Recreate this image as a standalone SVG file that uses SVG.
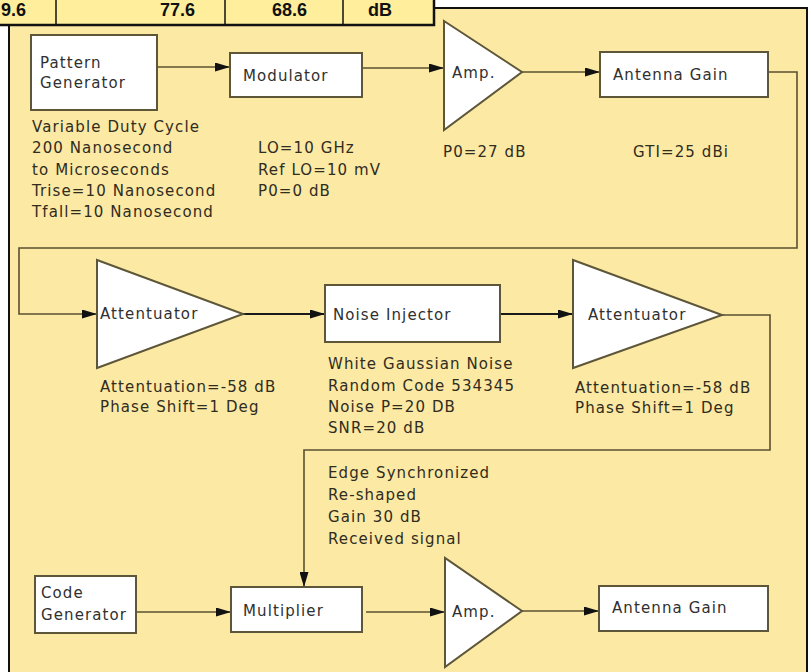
<svg xmlns="http://www.w3.org/2000/svg" width="811" height="672" viewBox="0 0 811 672">
<defs>
<marker id="ah" markerUnits="userSpaceOnUse" markerWidth="15" markerHeight="9" refX="15" refY="4.5" orient="auto">
<path d="M0,0 L15,4.5 L0,9 z" fill="#111"/>
</marker>
<style>
.node{fill:#fff;stroke:#5e5638;stroke-width:2}
.t{font-family:"DejaVu Sans","Liberation Sans",sans-serif;font-size:15px;letter-spacing:1.1px;fill:#303030}
.lbl{font-family:"DejaVu Sans","Liberation Sans",sans-serif;font-size:15px;letter-spacing:1.1px;fill:#302c1e}
.c{fill:none;stroke:#5a5030;stroke-width:1.6}
.ck{fill:none;stroke:#1a1a1a;stroke-width:2.2}
.tb{font-family:"Liberation Sans",Arial,sans-serif;font-size:18px;font-weight:bold;fill:#111}
</style>
</defs>
<rect x="0" y="0" width="811" height="672" fill="#fff"/>
<rect x="9" y="8" width="798" height="700" fill="#FBE9A4" stroke="#111" stroke-width="2"/>
<g id="table">
<rect x="-10" y="-10" width="444" height="35" fill="#FFEF9C" stroke="#111" stroke-width="2.5"/>
<line x1="56" y1="-10" x2="56" y2="24" stroke="#111" stroke-width="1.5"/>
<line x1="225" y1="-10" x2="225" y2="24" stroke="#111" stroke-width="1.5"/>
<line x1="343" y1="-10" x2="343" y2="24" stroke="#111" stroke-width="1.5"/>
<text class="tb" x="1" y="16">9.6</text>
<text class="tb" x="160" y="16">77.6</text>
<text class="tb" x="272" y="16">68.6</text>
<text class="tb" x="368" y="16">dB</text>
</g>
<g id="connectors">
<path class="c" d="M157,67 L230,67" marker-end="url(#ah)"/>
<path class="c" d="M362,68 L444,68" marker-end="url(#ah)"/>
<path class="c" d="M522,72 L600,72" marker-end="url(#ah)"/>
<path class="c" d="M768,72 L797,72 L797,248 L19,248 L19,314 L97,314" marker-end="url(#ah)"/>
<path class="ck" d="M243,314 L325,314" marker-end="url(#ah)"/>
<path class="ck" d="M500,314 L573,314" marker-end="url(#ah)"/>
<path class="c" d="M722,315 L770,315 L770,450 L304,450 L304,587" marker-end="url(#ah)"/>
<path class="c" d="M136,612 L231,612" marker-end="url(#ah)"/>
<path class="c" d="M366,612 L445,612" marker-end="url(#ah)"/>
<path class="c" d="M522,611 L599,611" marker-end="url(#ah)"/>
</g>
<g id="pattern-generator">
<rect class="node" x="31" y="35" width="126" height="75"/>
<text class="t" x="40" y="68">Pattern</text>
<text class="t" x="40" y="88">Generator</text>
<text class="lbl" x="32" y="132">Variable Duty Cycle</text>
<text class="lbl" x="32" y="153">200 Nanosecond</text>
<text class="lbl" x="32" y="175">to Microseconds</text>
<text class="lbl" x="32" y="196">Trise=10 Nanosecond</text>
<text class="lbl" x="32" y="217">Tfall=10 Nanosecond</text>
</g>
<g id="modulator">
<rect class="node" x="230" y="53" width="132" height="44"/>
<text class="t" x="243" y="81">Modulator</text>
<text class="lbl" x="258" y="153">LO=10 GHz</text>
<text class="lbl" x="258" y="175">Ref LO=10 mV</text>
<text class="lbl" x="258" y="196">P0=0 dB</text>
</g>
<g id="amp1">
<polygon class="node" points="444,21 444,130 522,72"/>
<text class="t" x="452" y="78">Amp.</text>
<text class="lbl" x="443" y="157">P0=27 dB</text>
</g>
<g id="antenna1">
<rect class="node" x="600" y="52" width="168" height="45"/>
<text class="t" x="613" y="80">Antenna Gain</text>
<text class="lbl" x="633" y="157">GTI=25 dBi</text>
</g>
<g id="attenuator1">
<polygon class="node" points="97,260 97,368 243,314"/>
<text class="t" x="100" y="319">Attentuator</text>
<text class="lbl" x="100" y="392">Attentuation=-58 dB</text>
<text class="lbl" x="100" y="412">Phase Shift=1 Deg</text>
</g>
<g id="noise-injector">
<rect class="node" x="325" y="285" width="175" height="57"/>
<text class="t" x="333" y="320">Noise Injector</text>
<text class="lbl" x="328" y="369">White Gaussian Noise</text>
<text class="lbl" x="328" y="391">Random Code 534345</text>
<text class="lbl" x="328" y="412">Noise P=20 DB</text>
<text class="lbl" x="328" y="433">SNR=20 dB</text>
</g>
<g id="attenuator2">
<polygon class="node" points="573,260 573,368 722,315"/>
<text class="t" x="588" y="320">Attentuator</text>
<text class="lbl" x="575" y="393">Attentuation=-58 dB</text>
<text class="lbl" x="575" y="413">Phase Shift=1 Deg</text>
</g>
<g id="received-label">
<text class="lbl" x="328" y="478">Edge Synchronized</text>
<text class="lbl" x="328" y="500">Re-shaped</text>
<text class="lbl" x="328" y="522">Gain 30 dB</text>
<text class="lbl" x="328" y="544">Received signal</text>
</g>
<g id="code-generator">
<rect class="node" x="35" y="576" width="101" height="57"/>
<text class="t" x="41" y="598">Code</text>
<text class="t" x="41" y="620">Generator</text>
</g>
<g id="multiplier">
<rect class="node" x="231" y="587" width="131" height="45"/>
<text class="t" x="243" y="616">Multiplier</text>
</g>
<g id="amp2">
<polygon class="node" points="445,558 445,667 522,611"/>
<text class="t" x="452" y="617">Amp.</text>
</g>
<g id="antenna2">
<rect class="node" x="599" y="586" width="169" height="45"/>
<text class="t" x="612" y="613">Antenna Gain</text>
</g>
</svg>
